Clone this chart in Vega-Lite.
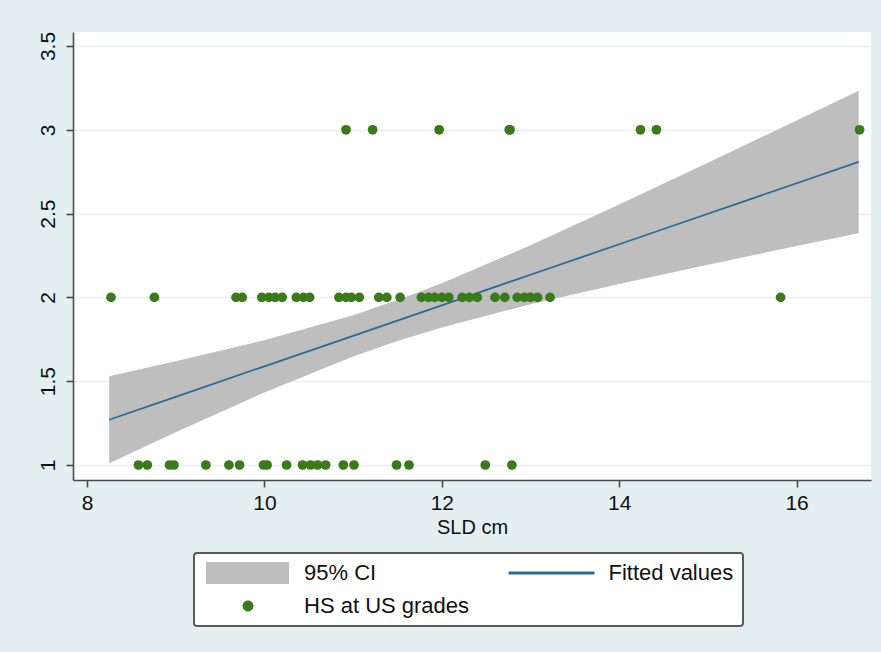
{
  "$schema": "https://vega.github.io/schema/vega-lite/v6.json",
  "autosize": {"type": "none"},
  "width": 798,
  "height": 448,
  "padding": {"left": 73, "top": 32, "right": 10, "bottom": 172},
  "background": "#e4eff1",
  "config": {
    "view": {"fill": "white", "stroke": null},
    "font": "Liberation Sans"
  },
  "datasets": {
    "fit": [
      {"x": 8.25, "yhat": 1.270, "lo": 1.010, "hi": 1.530},
      {"x": 9.0, "yhat": 1.407, "lo": 1.195, "hi": 1.619},
      {"x": 10.0, "yhat": 1.589, "lo": 1.433, "hi": 1.745},
      {"x": 11.0, "yhat": 1.771, "lo": 1.648, "hi": 1.894},
      {"x": 11.5, "yhat": 1.862, "lo": 1.740, "hi": 1.984},
      {"x": 12.0, "yhat": 1.953, "lo": 1.821, "hi": 2.085},
      {"x": 13.0, "yhat": 2.135, "lo": 1.959, "hi": 2.311},
      {"x": 14.0, "yhat": 2.317, "lo": 2.080, "hi": 2.554},
      {"x": 15.0, "yhat": 2.499, "lo": 2.195, "hi": 2.803},
      {"x": 16.0, "yhat": 2.681, "lo": 2.306, "hi": 3.056},
      {"x": 16.7, "yhat": 2.808, "lo": 2.383, "hi": 3.233}
    ],
    "pts": [
      {"x": 8.27, "y": 2}, {"x": 8.76, "y": 2}, {"x": 9.68, "y": 2}, {"x": 9.75, "y": 2},
      {"x": 9.97, "y": 2}, {"x": 10.05, "y": 2}, {"x": 10.12, "y": 2}, {"x": 10.20, "y": 2},
      {"x": 10.36, "y": 2}, {"x": 10.44, "y": 2}, {"x": 10.51, "y": 2}, {"x": 10.84, "y": 2},
      {"x": 10.92, "y": 2}, {"x": 10.98, "y": 2}, {"x": 11.07, "y": 2}, {"x": 11.29, "y": 2},
      {"x": 11.38, "y": 2}, {"x": 11.53, "y": 2}, {"x": 11.77, "y": 2}, {"x": 11.85, "y": 2},
      {"x": 11.92, "y": 2}, {"x": 12.00, "y": 2}, {"x": 12.08, "y": 2}, {"x": 12.23, "y": 2},
      {"x": 12.31, "y": 2}, {"x": 12.40, "y": 2}, {"x": 12.60, "y": 2}, {"x": 12.71, "y": 2},
      {"x": 12.85, "y": 2}, {"x": 12.93, "y": 2}, {"x": 13.00, "y": 2}, {"x": 13.08, "y": 2},
      {"x": 13.22, "y": 2}, {"x": 15.82, "y": 2},
      {"x": 8.58, "y": 1}, {"x": 8.68, "y": 1}, {"x": 8.93, "y": 1}, {"x": 8.98, "y": 1},
      {"x": 9.34, "y": 1}, {"x": 9.60, "y": 1}, {"x": 9.72, "y": 1}, {"x": 9.99, "y": 1},
      {"x": 10.03, "y": 1}, {"x": 10.25, "y": 1}, {"x": 10.43, "y": 1}, {"x": 10.52, "y": 1},
      {"x": 10.60, "y": 1}, {"x": 10.69, "y": 1}, {"x": 10.89, "y": 1}, {"x": 11.01, "y": 1},
      {"x": 11.49, "y": 1}, {"x": 11.63, "y": 1}, {"x": 12.49, "y": 1}, {"x": 12.79, "y": 1},
      {"x": 10.92, "y": 3}, {"x": 11.22, "y": 3}, {"x": 11.97, "y": 3}, {"x": 12.76, "y": 3},
      {"x": 12.77, "y": 3}, {"x": 14.24, "y": 3}, {"x": 14.42, "y": 3}, {"x": 16.71, "y": 3}
    ]
  },
  "encoding": {
    "x": {
      "type": "quantitative",
      "scale": {"domain": [7.842, 16.839], "nice": false, "zero": false},
      "axis": {
        "title": "SLD cm",
        "values": [8, 10, 12, 14, 16],
        "grid": false,
        "domainColor": "#4a4a4a",
        "domainWidth": 1.6,
        "tickColor": "#4a4a4a",
        "tickWidth": 1.6,
        "tickSize": 7,
        "labelFontSize": 21,
        "labelColor": "#111111",
        "labelPadding": 5,
        "titleFontSize": 20,
        "titleFontWeight": "normal",
        "titleColor": "#111111",
        "titlePadding": 4
      }
    },
    "y": {
      "type": "quantitative",
      "scale": {"domain": [0.9105, 3.5835], "nice": false, "zero": false},
      "axis": {
        "title": null,
        "values": [1, 1.5, 2, 2.5, 3, 3.5],
        "format": "~g",
        "grid": true,
        "gridColor": "#e6eff2",
        "gridWidth": 1.5,
        "domainColor": "#4a4a4a",
        "domainWidth": 1.6,
        "tickColor": "#4a4a4a",
        "tickWidth": 1.6,
        "tickSize": 7,
        "labelFontSize": 21,
        "labelColor": "#111111",
        "labelAngle": 270,
        "labelAlign": "center",
        "labelBaseline": "bottom",
        "labelPadding": 8
      }
    }
  },
  "layer": [
    {
      "data": {"name": "fit"},
      "mark": {"type": "area", "color": "#bebebe", "opacity": 1},
      "encoding": {
        "x": {"field": "x", "type": "quantitative"},
        "y": {"field": "lo", "type": "quantitative"},
        "y2": {"field": "hi"}
      }
    },
    {
      "data": {"name": "fit"},
      "mark": {"type": "line", "color": "#2c6b96", "strokeWidth": 1.8},
      "encoding": {
        "x": {"field": "x", "type": "quantitative"},
        "y": {"field": "yhat", "type": "quantitative"}
      }
    },
    {
      "data": {"name": "pts"},
      "mark": {"type": "point", "filled": true, "shape": "circle", "size": 95, "opacity": 1},
      "encoding": {
        "x": {"field": "x", "type": "quantitative"},
        "y": {"field": "y", "type": "quantitative"},
        "color": {
          "datum": "HS at US grades",
          "type": "nominal",
          "scale": {
            "domain": ["95% CI", "Fitted values", "HS at US grades"],
            "range": ["#bebebe", "#2c6b96", "#3a7a1a"]
          },
          "legend": {
            "title": null,
            "orient": "none",
            "legendX": 121,
            "legendY": 521,
            "direction": "horizontal",
            "columns": 2,
            "symbolSize": 400,
            "symbolStrokeWidth": 0,
            "symbolOpacity": 1,
            "labelOffset": 79,
            "columnPadding": 37.5,
            "rowPadding": 11,
            "labelFontSize": 22,
            "labelColor": "#111111",
            "labelLimit": 400,
            "padding": 9,
            "strokeColor": "#5a5a5a",
            "fillColor": "white",
            "cornerRadius": 3,
            "encode": {
              "legend": {"update": {"strokeWidth": {"value": 2}}},
              "symbols": {
                "update": {
                  "fill": {"scale": "color", "field": "value"},
                  "strokeWidth": {"value": 0},
                  "opacity": {"value": 1},
                  "shape": {"signal": "datum.value === '95% CI' ? 'M-0.8,-1.1H7.5V1.1H-0.8Z' : (datum.value === 'Fitted values' ? 'M-1,-0.15H7.6V0.15H-1Z' : 'M2.85,0A0.55,0.55 0 1,0 3.95,0A0.55,0.55 0 1,0 2.85,0Z')"}
                }
              }
            }
          }
        }
      }
    }
  ]
}
